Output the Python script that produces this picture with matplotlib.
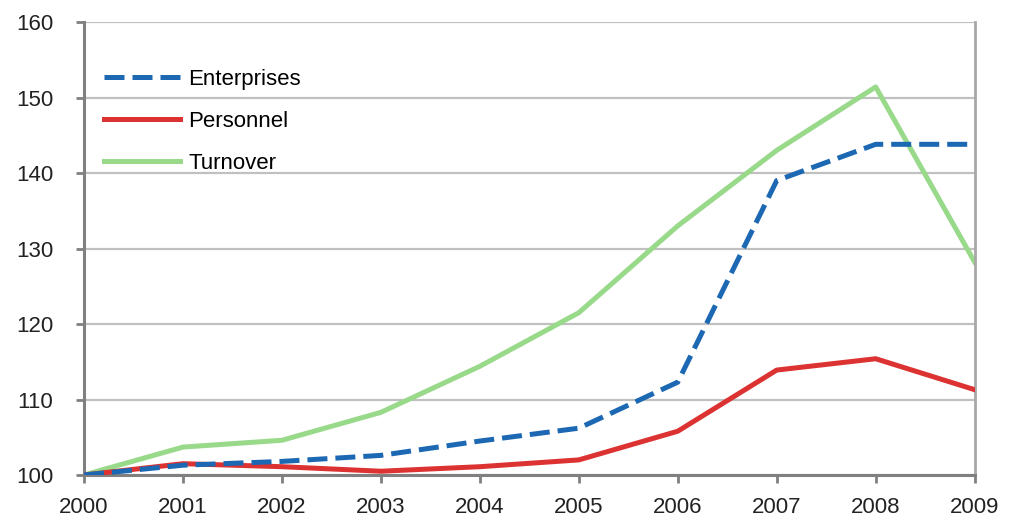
import matplotlib
matplotlib.use("Agg")
import matplotlib.pyplot as plt

years = [2000, 2001, 2002, 2003, 2004, 2005, 2006, 2007, 2008, 2009]
enterprises = [100, 101.3, 101.8, 102.6, 104.5, 106.2, 112.3, 139.0, 143.8, 143.8]
personnel = [100, 101.5, 101.1, 100.5, 101.1, 102.0, 105.8, 113.9, 115.4, 111.3]
turnover = [100, 103.7, 104.6, 108.3, 114.4, 121.5, 133.0, 143.0, 151.4, 128.2]
y_ticks = [100, 110, 120, 130, 140, 150, 160]

plt.rcParams["font.family"] = ["Liberation Sans", "DejaVu Sans"]

fig = plt.figure(figsize=(10.1, 5.24), dpi=100)
ax = fig.add_axes([0.0832, 0.0935, 0.8818, 0.8645])

ax.plot(years, enterprises, color="#1c68b3", lw=3.6, dashes=(4, 1.6),
        dash_capstyle="butt", solid_joinstyle="round", label="Enterprises", zorder=4)
ax.plot(years, personnel, color="#dc3232", lw=3.6, solid_joinstyle="round",
        label="Personnel", zorder=3)
ax.plot(years, turnover, color="#98d98a", lw=3.6, solid_joinstyle="round",
        label="Turnover", zorder=2)

ax.set_xlim(2000, 2009)
ax.set_ylim(100, 160)
ax.set_xticks(years)
ax.set_yticks(y_ticks)
ax.tick_params(axis="both", labelsize=16, colors="#808080", width=2, length=6,
               labelcolor="#222222", direction="out")
ax.tick_params(axis="x", pad=10)
ax.tick_params(axis="y", pad=16)

ax.grid(axis="y", color="#c0c0c0", lw=1.6, zorder=0)
for side in ["left", "bottom"]:
    ax.spines[side].set_color("#808080")
    ax.spines[side].set_linewidth(2.2)
ax.spines["right"].set_color("#a8a8a8")
ax.spines["right"].set_linewidth(2)
ax.spines["top"].set_visible(False)
ax.set_axisbelow(True)

ax.legend(loc="upper left", bbox_to_anchor=(0.0, 0.941), frameon=False,
          fontsize=16, handlelength=3.4, handletextpad=0.4, labelspacing=0.95)

fig.savefig("out.png", dpi=100)
